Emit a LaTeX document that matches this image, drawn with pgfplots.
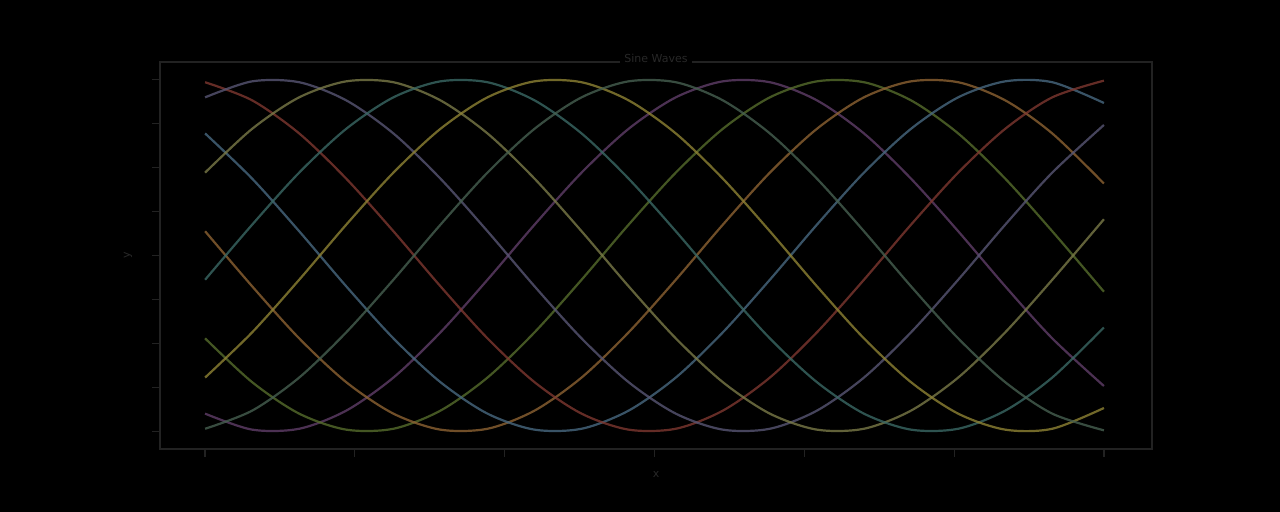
\documentclass[border=0pt]{standalone}
\usepackage{fontspec}
\setmainfont{DejaVu Sans}
\usepackage{pgfplots}
\usepackage{pgfplotstable}
\pgfplotsset{compat=1.18}
\definecolor{frame}{RGB}{34,34,34}
\definecolor{txt}{RGB}{40,40,40}
\definecolor{c0}{RGB}{96,62,104}
\definecolor{c1}{RGB}{86,108,44}
\definecolor{c2}{RGB}{140,98,50}
\definecolor{c3}{RGB}{72,104,128}
\definecolor{c4}{RGB}{126,56,48}
\definecolor{c5}{RGB}{88,86,116}
\definecolor{c6}{RGB}{122,122,72}
\definecolor{c7}{RGB}{58,104,100}
\definecolor{c8}{RGB}{142,130,52}
\definecolor{c9}{RGB}{70,96,80}
\pgfplotstableread{
x      y0     y1     y2     y3     y4     y5     y6     y7     y8     y9
0.000 -0.899 -0.471  0.138  0.694  0.985  0.899  0.471 -0.138 -0.694 -0.985
0.314 -0.990 -0.720 -0.175  0.437  0.882  0.990  0.720  0.175 -0.437 -0.882
0.628 -0.985 -0.899 -0.471  0.138  0.694  0.985  0.899  0.471 -0.138 -0.694
0.942 -0.882 -0.990 -0.720 -0.175  0.437  0.882  0.990  0.720  0.175 -0.437
1.257 -0.694 -0.985 -0.899 -0.471  0.138  0.694  0.985  0.899  0.471 -0.138
1.571 -0.437 -0.882 -0.990 -0.720 -0.175  0.437  0.882  0.990  0.720  0.175
1.885 -0.138 -0.694 -0.985 -0.899 -0.471  0.138  0.694  0.985  0.899  0.471
2.199  0.175 -0.437 -0.882 -0.990 -0.720 -0.175  0.437  0.882  0.990  0.720
2.513  0.471 -0.138 -0.694 -0.985 -0.899 -0.471  0.138  0.694  0.985  0.899
2.827  0.720  0.175 -0.437 -0.882 -0.990 -0.720 -0.175  0.437  0.882  0.990
3.142  0.899  0.471 -0.138 -0.694 -0.985 -0.899 -0.471  0.138  0.694  0.985
3.456  0.990  0.720  0.175 -0.437 -0.882 -0.990 -0.720 -0.175  0.437  0.882
3.770  0.985  0.899  0.471 -0.138 -0.694 -0.985 -0.899 -0.471  0.138  0.694
4.084  0.882  0.990  0.720  0.175 -0.437 -0.882 -0.990 -0.720 -0.175  0.437
4.398  0.694  0.985  0.899  0.471 -0.138 -0.694 -0.985 -0.899 -0.471  0.138
4.712  0.437  0.882  0.990  0.720  0.175 -0.437 -0.882 -0.990 -0.720 -0.175
5.027  0.138  0.694  0.985  0.899  0.471 -0.138 -0.694 -0.985 -0.899 -0.471
5.341 -0.175  0.437  0.882  0.990  0.720  0.175 -0.437 -0.882 -0.990 -0.720
5.655 -0.471  0.138  0.694  0.985  0.899  0.471 -0.138 -0.694 -0.985 -0.899
6.000 -0.742 -0.206  0.409  0.867  0.994  0.742  0.206 -0.409 -0.867 -0.994
}\waves
\begin{document}
\begin{tikzpicture}
\fill[black] (-80pt,-31.5pt) rectangle (560pt,224.5pt);
\useasboundingbox (-80pt,-31.5pt) rectangle (560pt,224.5pt);
\begin{axis}[
  at={(0pt,0pt)}, anchor=south west,
  scale only axis, width=496pt, height=193.5pt,
  xmin=-0.301, xmax=6.321, ymin=-1.1, ymax=1.1,
  axis line style={draw=frame, line width=0.6pt},
  xtick={0,1,2,3,4,5,6},
  ytick={-1,-0.75,-0.5,-0.25,0,0.25,0.5,0.75,1},
  yticklabel style={/pgf/number format/fixed, /pgf/number format/precision=2},
  tick style={draw=frame, line width=0.6pt},
  tick align=outside, major tick length=4pt,
  xtick pos=bottom, ytick pos=left,
  tick label style={text=black, font=\fontsize{4}{5}\selectfont},
  xticklabel style={yshift=1pt}, yticklabel style={xshift=1pt},
  title={Sine Waves},
  title style={at={(axis description cs:0.5,1)}, anchor=center, yshift=-4pt,
    fill=black, inner sep=2pt, text=txt, font=\fontsize{5.5}{6}\selectfont},
  xlabel={x}, ylabel={y},
  xlabel style={at={(axis description cs:0.5,0)}, anchor=north, yshift=-11pt,
    text=txt, font=\fontsize{5.5}{6}\selectfont, inner sep=0pt},
  ylabel style={at={(axis description cs:0,0.5)}, anchor=center, yshift=16pt,
    text=txt, font=\fontsize{5.5}{6}\selectfont},
  every axis plot/.append style={line width=1.1pt, smooth, no markers, opacity=0.8},
]
\addplot[c0] table[x=x,y=y0]{\waves};
\addplot[c1] table[x=x,y=y1]{\waves};
\addplot[c2] table[x=x,y=y2]{\waves};
\addplot[c3] table[x=x,y=y3]{\waves};
\addplot[c4] table[x=x,y=y4]{\waves};
\addplot[c5] table[x=x,y=y5]{\waves};
\addplot[c6] table[x=x,y=y6]{\waves};
\addplot[c7] table[x=x,y=y7]{\waves};
\addplot[c8] table[x=x,y=y8]{\waves};
\addplot[c9] table[x=x,y=y9]{\waves};
\end{axis}
\end{tikzpicture}
\end{document}
